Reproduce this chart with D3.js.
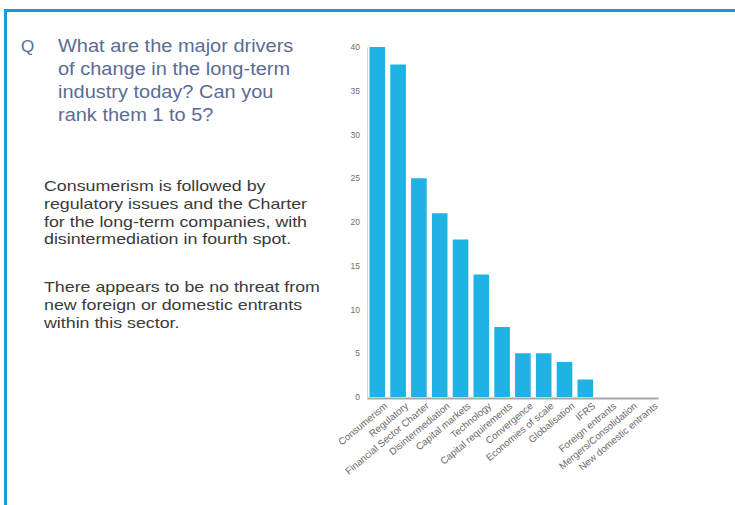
<!DOCTYPE html>
<html>
<head>
<meta charset="utf-8">
<script src="https://cdn.jsdelivr.net/npm/d3@7"></script>
<style>
  html, body { margin: 0; padding: 0; background: #ffffff; }
  svg { display: block; }
</style>
</head>
<body>
<svg id="chart" width="735" height="505"></svg>
<script>
// Survey responses: major drivers of change in the long-term industry
const categories = [
  "Consumerism", "Regulatory", "Financial Sector Charter", "Disintermediation",
  "Capital markets", "Technology", "Capital requirements", "Convergence",
  "Economies of scale", "Globalisation", "IFRS", "Foreign entrants",
  "Mergers/Consolidation", "New domestic entrants"
];
const responses = [40, 38, 25, 21, 18, 14, 8, 5, 5, 4, 2, 0, 0, 0];
const yTicks = [0, 5, 10, 15, 20, 25, 30, 35, 40];

const questionLines = [
  "What are the major drivers",
  "of change in the long-term",
  "industry today? Can you",
  "rank them 1 to 5?"
];
const paragraphOne = [
  "Consumerism is followed by",
  "regulatory issues and the Charter",
  "for the long-term companies, with",
  "disintermediation in fourth spot."
];
const paragraphTwo = [
  "There appears to be no threat from",
  "new foreign or domestic entrants",
  "within this sector."
];

const svg = d3.select("#chart");
const frameBlue = "#1a9ad7";
const barBlue = "#1fb2e2";
const font = "'Liberation Sans', Arial, Helvetica, sans-serif";

// Page frame: blue rule along the top and left edge
svg.append("line").attr("x1", 4).attr("x2", 735).attr("y1", 10.5).attr("y2", 10.5)
  .attr("stroke", frameBlue).attr("stroke-width", 3);
svg.append("line").attr("x1", 5.5).attr("x2", 5.5).attr("y1", 9).attr("y2", 505)
  .attr("stroke", frameBlue).attr("stroke-width", 3);

// Question block (set slightly wide)
const question = svg.append("g").attr("transform", "translate(58,0) scale(1.08,1)")
  .attr("font-family", font).attr("font-size", 18.5).attr("fill", "#5b6c95");
question.selectAll("text").data(questionLines).join("text")
  .attr("x", 0).attr("y", (d, i) => 52 + i * 23)
  .text(d => d);
svg.append("text").attr("x", 21).attr("y", 52)
  .attr("font-family", font).attr("font-size", 17).attr("fill", "#5b6c95")
  .text("Q");

// Commentary paragraphs (set wide)
const body = svg.append("g").attr("transform", "translate(44,0) scale(1.22,1)")
  .attr("font-family", font).attr("font-size", 14.6).attr("fill", "#3a3a3a");
body.selectAll("text.p1").data(paragraphOne).join("text").attr("class", "p1")
  .attr("x", 0).attr("y", (d, i) => 191 + i * 17.8).text(d => d);
body.selectAll("text.p2").data(paragraphTwo).join("text").attr("class", "p2")
  .attr("x", 0).attr("y", (d, i) => 292 + i * 17.8).text(d => d);

// Bar chart
const x = d3.scaleBand().domain(categories).range([367, 658]).paddingInner(0.25).paddingOuter(0.12);
const y = d3.scaleLinear().domain([0, 40]).range([397, 47]);

const yAxis = svg.append("g").attr("transform", "translate(367,0)")
  .call(d3.axisLeft(y).tickValues(yTicks).tickSize(0).tickPadding(7));
yAxis.select(".domain").attr("stroke", "#d4d4d4").attr("stroke-width", 1);
yAxis.selectAll("text").attr("font-family", font).attr("font-size", 8.5).attr("fill", "#6e6e6e");

svg.append("g").selectAll("rect").data(categories).join("rect")
  .attr("x", d => x(d))
  .attr("width", x.bandwidth())
  .attr("y", (d, i) => y(responses[i]))
  .attr("height", (d, i) => y(0) - y(responses[i]))
  .attr("fill", barBlue);

const xAxis = svg.append("g").attr("transform", "translate(0,398)")
  .call(d3.axisBottom(x).tickSize(0).tickPadding(0));
xAxis.select(".domain").attr("stroke", "#a8a8a8").attr("stroke-width", 2);
xAxis.selectAll("text")
  .attr("font-family", font).attr("font-size", 9.8).attr("fill", "#6a6a6a")
  .attr("text-anchor", "end")
  .attr("dy", 0)
  .attr("transform", d => "translate(" + (x.bandwidth() / 2 + 3) + ",9) rotate(-40)");
</script>
</body>
</html>
